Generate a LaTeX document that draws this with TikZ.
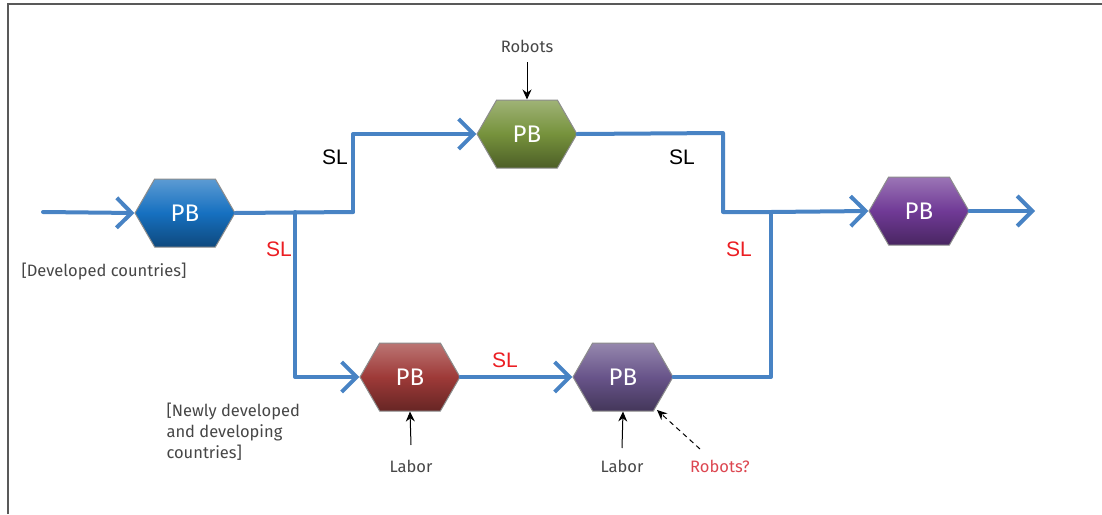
\documentclass[tikz,border=0pt]{standalone}
\usepackage{fontspec}
\setmainfont{Fira Sans}
\newfontfamily\slfont{Liberation Sans}
\usetikzlibrary{shapes.symbols, arrows.meta, positioning, calc}

\definecolor{flowblue}{RGB}{72, 131, 196}
\definecolor{hexblue}{RGB}{22, 112, 192}
\definecolor{hexgreen}{RGB}{118, 146, 60}
\definecolor{hexred}{RGB}{158, 58, 56}
\definecolor{hexmauve}{RGB}{104, 84, 138}
\definecolor{hexviolet}{RGB}{112, 58, 150}
\definecolor{labgray}{RGB}{70, 70, 70}
\definecolor{slred}{RGB}{235, 30, 35}
\definecolor{qred}{RGB}{220, 70, 80}

\tikzset{
  hexbox/.style={shape=signal, signal to=east and west, signal pointer angle=120,
    minimum width=100pt, minimum height=68pt, inner sep=0pt,
    draw=black!45, line width=1pt, text=white,
    font=\fontsize{24}{26}\selectfont,
    top color=#1!70!white, bottom color=#1!65!black, middle color=#1},
  flow/.style={line width=4pt, flowblue, line cap=round, line join=round},
  flowtip/.style={-{Straight Barb[length=15pt, width=30pt, line width=4pt]}},
  sltext/.style={font=\slfont\fontsize{21}{24}\selectfont},
  lab/.style={font=\fontsize{16.5}{19}\selectfont, text=labgray},
  feed/.style={-{Stealth[length=10pt, width=9pt]}, line width=1pt},
}

\begin{document}
\begin{tikzpicture}[x=1pt, y=-1pt]
  \useasboundingbox (0,0) rectangle (1102,514);

  % frame
  \draw[black!65, line width=2pt] (8,514) -- (8,4) -- (1102,4);

  % hexagons
  \node[hexbox=hexblue] (hexDev) at (185,213) {PB};
  \node[hexbox=hexgreen] (hexRob) at (527,134) {PB};
  \node[hexbox=hexred] (hexNew) at (410,377) {PB};
  \node[hexbox=hexmauve] (hexMix) at (623,377) {PB};
  \node[hexbox=hexviolet] (hexOut) at (919,211) {PB};

  % junctions
  \coordinate (inStart) at (43,212);
  \coordinate (splitA) at (295,212);
  \coordinate (stepUp) at (353,212);
  \coordinate (stepDown) at (723,133);
  \coordinate (joinB) at (771,212);
  \coordinate (outEnd) at (1035,211);

  % flows
  \draw[flow, flowtip] (inStart) -- (hexDev.west);
  \draw[flow] (hexDev.east) -- (stepUp);
  \draw[flow, flowtip] (stepUp) |- (hexRob.west);
  \draw[flow] (hexRob.east) -- (stepDown) |- (joinB);
  \draw[flow, flowtip] (splitA) |- (hexNew.west);
  \draw[flow, flowtip] (hexNew.east) -- (hexMix.west);
  \draw[flow] (hexMix.east) -| (joinB);
  \draw[flow, flowtip] (joinB) -- (hexOut.west);
  \draw[flow, flowtip] (hexOut.east) -- (outEnd);

  % SL labels
  \node[sltext] (slUp) at (335,157) {SL};
  \node[sltext] (slRight) at (682,157) {SL};
  \node[sltext, text=slred] (slDown) at (279,249) {SL};
  \node[sltext, text=slred] (slJoin) at (739,249) {SL};
  \node[sltext, text=slred] (slMid) at (505,360) {SL};

  % inputs
  \node[lab] (robTop) at (527,46) {Robots};
  \coordinate (robTopEnd) at (527,62);
  \draw[feed] (robTopEnd) -- (hexRob.north);
  \node[lab] (laborA) at (411,466) {Labor};
  \coordinate (laborAtop) at (411,445);
  \draw[feed] (laborAtop) -- (hexNew.south);
  \node[lab] (laborB) at (622,466) {Labor};
  \coordinate (laborBtop) at (622,448);
  \draw[feed] (laborBtop) -- (hexMix.south);
  \node[lab, text=qred] (robQ) at (720,466) {Robots?};
  \coordinate (robQtop) at (700,449);
  \coordinate (hexMixCorner) at (657,410);
  \draw[feed, dash pattern=on 5pt off 4pt] (robQtop) -- (hexMixCorner);

  % region notes
  \node[lab, anchor=west] (devLab) at (18,272) {[Developed countries]};
  \node[lab, anchor=north west, align=left, font=\fontsize{16.5}{21}\selectfont] (newLab) at (163,399)
    {[Newly developed\\and developing\\countries]};
\end{tikzpicture}
\end{document}
